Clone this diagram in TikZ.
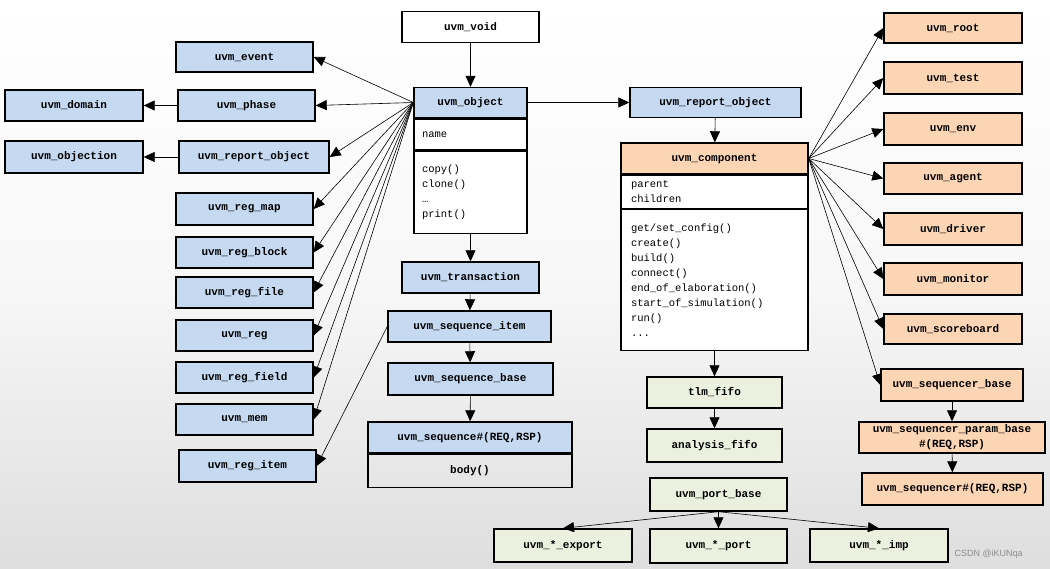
\documentclass[tikz,border=0pt]{standalone}
\usepackage{fontspec}
\setmonofont{Liberation Mono}
\setsansfont{Liberation Sans}
\usetikzlibrary{arrows.meta,positioning}

\definecolor{objblue}{RGB}{197,217,241}
\definecolor{compor}{RGB}{252,213,181}
\definecolor{tlmgreen}{RGB}{235,241,222}

\tikzset{
  cls/.style={draw=black,line width=1.4pt,inner sep=0pt,minimum height=31pt,align=center,
    font=\ttfamily\bfseries\fontsize{11}{15}\selectfont},
  objcls/.style={cls,fill=objblue},
  compcls/.style={cls,fill=compor},
  tlmcls/.style={cls,fill=tlmgreen},
  memb/.style={draw=black,line width=1.4pt,fill=white,anchor=north,align=left,
    inner xsep=8pt,inner ysep=0pt,font=\ttfamily\fontsize{10.5}{15}\selectfont},
  link/.style={-{Triangle[length=11pt,width=10pt]},line width=0.6pt},
}

\begin{document}
\begin{tikzpicture}[x=1pt,y=-1pt]
  % ===== Background =====
  \shade[top color=white,bottom color=black!13,middle color=black!3] (0,0) rectangle (1050,569);
  \useasboundingbox (0,0) rectangle (1050,569);

  % ===== uvm_object column =====
  \node[cls,fill=white,minimum width=137pt] (void) at (470.5,27) {uvm\_void};
  \node[objcls,minimum width=113pt,minimum height=30pt] (objhead) at (470.5,102.5) {uvm\_object};
  \node[memb,text width=97pt,minimum height=31pt] (objname) at (objhead.south) {name};
  \node[memb,text width=97pt,minimum height=82pt] (objmeth) at (objname.south)
    {copy()\\clone()\\…\\print()};

  \node[objcls,minimum width=137pt] (trans) at (470.5,277.5) {uvm\_transaction};
  \node[objcls,minimum width=163pt] (seqitem) at (469.5,326.5) {uvm\_sequence\_item};
  \node[objcls,minimum width=165pt,minimum height=32pt] (seqbase) at (470.5,379) {uvm\_sequence\_base};
  \node[objcls,minimum width=204pt] (seq) at (470,437.5) {uvm\_sequence\#(REQ,RSP)};
  \node[cls,anchor=north,minimum width=204pt,minimum height=33pt] (body) at (seq.south) {body()};

  % ===== Left column =====
  \node[objcls,minimum width=137pt,minimum height=30pt] (event) at (244.5,57) {uvm\_event};
  \node[objcls,minimum width=137pt] (phase) at (246.5,105.5) {uvm\_phase};
  \node[objcls,minimum width=138pt] (domain) at (74,105.5) {uvm\_domain};
  \node[objcls,minimum width=138pt,minimum height=32pt] (objection) at (74,157) {uvm\_objection};
  \node[objcls,minimum width=150pt,minimum height=32pt] (rptl) at (254,157) {uvm\_report\_object};
  \node[objcls,minimum width=137pt,minimum height=32pt] (regmap) at (244.5,209) {uvm\_reg\_map};
  \node[objcls,minimum width=137pt] (regblock) at (244.5,252.5) {uvm\_reg\_block};
  \node[objcls,minimum width=137pt] (regfile) at (244.5,292.5) {uvm\_reg\_file};
  \node[objcls,minimum width=137pt] (reg) at (244.5,335.5) {uvm\_reg};
  \node[objcls,minimum width=137pt] (regfield) at (244.5,377.5) {uvm\_reg\_field};
  \node[objcls,minimum width=137pt] (mem) at (244.5,419.5) {uvm\_mem};
  \node[objcls,minimum width=137pt,minimum height=32pt] (regitem) at (247.5,466) {uvm\_reg\_item};

  % ===== uvm_component column =====
  \node[objcls,minimum width=171pt,minimum height=30pt] (rptr) at (715.5,102.5) {uvm\_report\_object};
  \node[compcls,minimum width=187pt] (comphead) at (714.5,158.5) {uvm\_component};
  \node[memb,inner xsep=10pt,text width=167pt,minimum height=33pt] (compfld) at (comphead.south)
    {parent\\children};
  \node[memb,inner xsep=10pt,text width=167pt,minimum height=141pt] (compmeth) at (compfld.south)
    {get/set\_config()\\create()\\build()\\connect()\\end\_of\_elaboration()\\start\_of\_simulation()\\run()\\...};

  \node[tlmcls,minimum width=135pt] (tlmfifo) at (714.5,392.5) {tlm\_fifo};
  \node[tlmcls,minimum width=135pt,minimum height=33pt] (anafifo) at (714.5,445.5) {analysis\_fifo};
  \node[tlmcls,minimum width=137pt,minimum height=33pt] (portbase) at (718.5,494.5) {uvm\_port\_base};
  \node[tlmcls,minimum width=138pt,minimum height=33pt] (export) at (563,545.5) {uvm\_*\_export};
  \node[tlmcls,minimum width=137pt,minimum height=34pt] (port) at (718.5,546) {uvm\_*\_port};
  \node[tlmcls,minimum width=138pt,minimum height=33pt] (imp) at (879,545.5) {uvm\_*\_imp};

  % ===== Right column =====
  \node[compcls,minimum width=138pt,minimum height=30pt] (root) at (953,28) {uvm\_root};
  \node[compcls,minimum width=138pt,minimum height=32pt] (test) at (953,78) {uvm\_test};
  \node[compcls,minimum width=138pt,minimum height=32pt] (env) at (953,129) {uvm\_env};
  \node[compcls,minimum width=138pt] (agent) at (953,178.5) {uvm\_agent};
  \node[compcls,minimum width=138pt,minimum height=32pt] (driver) at (953,229) {uvm\_driver};
  \node[compcls,minimum width=138pt,minimum height=32pt] (monitor) at (953,279) {uvm\_monitor};
  \node[compcls,minimum width=138pt,minimum height=30pt] (scoreb) at (953,329) {uvm\_scoreboard};
  \node[compcls,minimum width=142pt,minimum height=32pt] (sqrbase) at (952,385) {uvm\_sequencer\_base};
  \node[compcls,minimum width=186pt] (sqrparam) at (952,437.5) {uvm\_sequencer\_param\_base\\\#(REQ,RSP)};
  \node[compcls,minimum width=181pt,minimum height=32pt] (sqr) at (952.5,489) {uvm\_sequencer\#(REQ,RSP)};

  % --- watermark ---
  \node[font=\sffamily\fontsize{9}{10}\selectfont,text=black!45,anchor=west] (wm) at (951,554) {CSDN @iKUNqa};

  % ===== Inheritance arrows =====
  \draw[link] (void) -- (objhead);
  \draw[link] (objmeth) -- (trans);
  \draw[link] (trans) -- (seqitem);
  \draw[link] (seqitem) -- (seqbase);
  \draw[link] (seqbase) -- (seq);
  \draw[link] (phase) -- (domain);
  \draw[link] (rptl) -- (objection);
  \foreach \n in {event,phase,rptl,regmap,regblock,regfile,reg,regfield,mem}
    \draw[link] (objhead.west) -- (\n.east);
  \draw[link] (seqitem.west) -- (regitem.east);

  \draw[link] (objhead) -- (rptr);
  \draw[link] (rptr) -- (comphead);
  \foreach \n in {root,test,env,agent,driver,monitor,scoreb,sqrbase}
    \draw[link] (comphead.east) -- (\n.west);
  \draw[link] (sqrbase) -- (sqrparam);
  \draw[link] (sqrparam) -- (sqr);

  \draw[link] (compmeth) -- (tlmfifo);
  \draw[link] (tlmfifo) -- (anafifo);
  \foreach \n in {export,port,imp}
    \draw[link] (portbase.south) -- (\n.north);
\end{tikzpicture}
\end{document}
